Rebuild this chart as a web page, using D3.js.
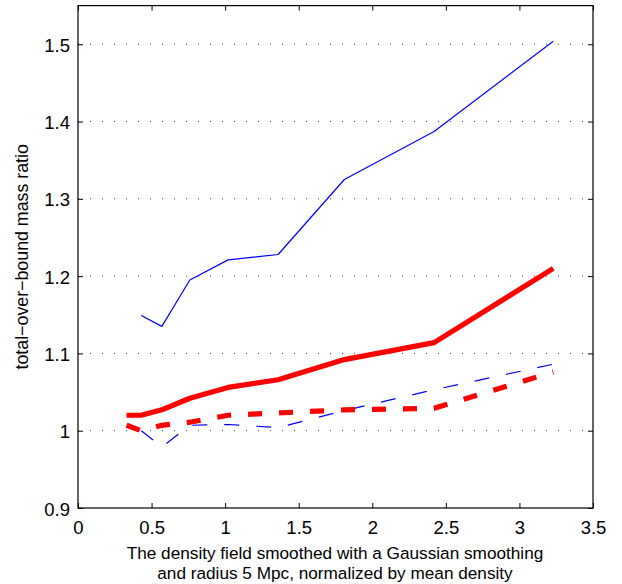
<!DOCTYPE html>
<html>
<head>
<meta charset="utf-8">
<script src="https://cdn.jsdelivr.net/npm/d3@7"></script>
<style>
  body { margin: 0; background: #fff; }
  svg { font-family: "Liberation Sans", Arial, Helvetica, sans-serif; }
</style>
</head>
<body>
<div id="chart"></div>
<script>
// bin centres of the smoothed density field
var densityBins = [0.33, 0.43, 0.57, 0.76, 1.02, 1.36, 1.81, 2.42, 3.23];

// total-over-bound mass ratio, one array per curve (null = no value in that bin)
var redSolid   = [1.020, 1.020, 1.027, 1.042, 1.056, 1.066, 1.092, 1.114, 1.210];
var redDashed  = [1.007, 1.000, 1.007, 1.011, 1.020, 1.023, 1.027, 1.029, 1.076];
var blueSolid  = [null, 1.149, 1.135, 1.195, 1.221, 1.228, 1.325, 1.387, 1.504];
var blueDashed = [null, 1.000, 0.979, 1.007, 1.008, 1.004, 1.026, 1.053, 1.086];

var xTicks = [0, 0.5, 1, 1.5, 2, 2.5, 3, 3.5];
var yTicks = [0.9, 1.0, 1.1, 1.2, 1.3, 1.4, 1.5];
var gridTicks = [1.0, 1.1, 1.2, 1.3, 1.4, 1.5];

var xLabelLines = ["The density field smoothed with a Gaussian smoothing",
                   "and radius 5 Mpc, normalized by mean density"];

function init(){

    var w = 622;
    var h = 584;
    var left = 78, right = 593, top = 5.6, bottom = 508;

    var svg = d3.select("#chart")
        .append("svg")
        .attr("width", w)
        .attr("height", h);

    var x = d3.scaleLinear().domain([0, 3.5]).range([left, right]);
    var y = d3.scaleLinear().domain([0.9, 1.55]).range([bottom, top]);

    var fmt = function(d) { return d3.format("")(+d.toFixed(1)); };

    // dotted horizontal grid
    svg.append("g")
        .selectAll("line")
        .data(gridTicks)
        .enter()
        .append("line")
        .attr("x1", left)
        .attr("x2", right)
        .attr("y1", d => y(d))
        .attr("y2", d => y(d))
        .attr("stroke", "#444")
        .attr("stroke-width", 1)
        .attr("stroke-dasharray", "1,11");

    // axes, ticks pointing inward
    svg.append("g")
        .attr("transform", "translate(0," + bottom + ")")
        .call(d3.axisBottom(x).tickValues(xTicks).tickSize(-5).tickPadding(13).tickFormat(fmt));
    svg.append("g")
        .attr("transform", "translate(0," + top + ")")
        .call(d3.axisTop(x).tickValues(xTicks).tickSize(-5).tickFormat(""));
    var yAxis = svg.append("g")
        .attr("transform", "translate(" + left + ",0)")
        .call(d3.axisLeft(y).tickValues(yTicks).tickSize(-5).tickPadding(8).tickFormat(fmt));
    svg.append("g")
        .attr("transform", "translate(" + right + ",0)")
        .call(d3.axisRight(y).tickValues(yTicks).tickSize(-5).tickFormat(""));

    svg.selectAll(".domain").remove();
    svg.selectAll(".tick line").attr("stroke", "#000");
    svg.selectAll(".tick text")
        .attr("font-size", 18.5)
        .attr("font-family", "Liberation Sans, Arial, sans-serif")
        .attr("fill", "#000");
    yAxis.selectAll(".tick text").attr("dy", "0.38em");

    // frame
    svg.append("rect")
        .attr("x", left)
        .attr("y", top)
        .attr("width", right - left)
        .attr("height", bottom - top)
        .attr("fill", "none")
        .attr("stroke", "#000")
        .attr("stroke-width", 1.2);

    var line = d3.line()
        .defined(d => d.v !== null)
        .x(d => x(d.x))
        .y(d => y(d.v));

    function series(vals) {
        return densityBins.map(function(b, i) { return {x: b, v: vals[i]}; });
    }

    var curves = [
        {vals: blueSolid,  color: "#0000ff", width: 1.2, dash: null},
        {vals: blueDashed, color: "#0000ff", width: 1.2, dash: "15,17"},
        {vals: redSolid,   color: "#ff0000", width: 5.2, dash: null},
        {vals: redDashed,  color: "#ff0000", width: 5.2, dash: "14,17"}
    ];

    svg.append("g")
        .selectAll("path")
        .data(curves)
        .enter()
        .append("path")
        .attr("d", d => line(series(d.vals)))
        .attr("fill", "none")
        .attr("stroke", d => d.color)
        .attr("stroke-width", d => d.width)
        .attr("stroke-linejoin", "round")
        .attr("stroke-dasharray", d => d.dash);

    // x axis title, two lines
    svg.append("g")
        .selectAll("text")
        .data(xLabelLines)
        .enter()
        .append("text")
        .attr("text-anchor", "middle")
        .attr("font-size", 17.2)
        .attr("x", 335)
        .attr("y", (d, i) => 558.5 + i * 20)
        .text(d => d);

    svg.append("text")
        .attr("text-anchor", "middle")
        .attr("font-size", 17.8)
        .attr("transform", "translate(28," + (top + bottom) / 2 + ") rotate(-90)")
        .text("total\u2212over\u2212bound mass ratio");
}
window.onload = init;
</script>
</body>
</html>
